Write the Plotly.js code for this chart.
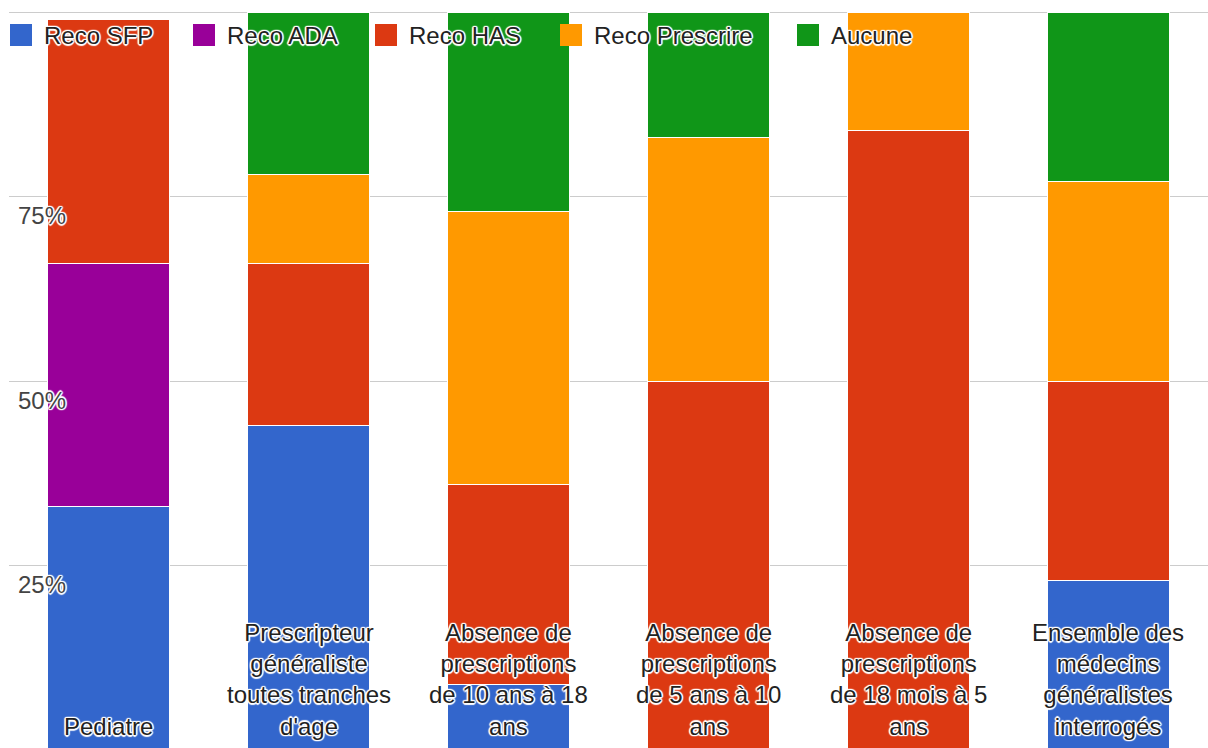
<!DOCTYPE html>
<html>
<head>
<meta charset="utf-8">
<script src="https://cdn.plot.ly/plotly-3.0.1.min.js"></script>
<style>
  html, body { margin: 0; padding: 0; background: #fff; overflow: hidden; }
  #chart { width: 1208px; height: 748px; }
</style>
</head>
<body>
<div id="chart"></div>
<script>
// ---- Data ----
const categories = [
  "Pediatre",
  "Prescripteur généraliste toutes tranches d'age",
  "Absence de prescriptions de 10 ans à 18 ans",
  "Absence de prescriptions de 5 ans à 10 ans",
  "Absence de prescriptions de 18 mois à 5 ans",
  "Ensemble des médecins généralistes interrogés"
];
const categoryLabels = [
  "Pediatre",
  "Prescripteur<br>généraliste<br>toutes tranches<br>d'age",
  "Absence de<br>prescriptions<br>de 10 ans à 18<br>ans",
  "Absence de<br>prescriptions<br>de 5 ans à 10<br>ans",
  "Absence de<br>prescriptions<br>de 18 mois à 5<br>ans",
  "Ensemble des<br>médecins<br>généralistes<br>interrogés"
];
const seriesNames = ["Reco SFP", "Reco ADA", "Reco HAS", "Reco Prescrire", "Aucune"];
const recoSFP       = [33, 44,  9,  0,  0, 23];
const recoADA       = [33,  0,  0,  0,  0,  0];
const recoHAS       = [33, 22, 27, 50, 84, 27];
const recoPrescrire = [ 0, 12, 37, 33, 16, 27];
const aucune        = [ 0, 22, 27, 17,  0, 23];
const yTickVals  = [25, 50, 75, 100];
const yTickText  = ["25%", "50%", "75%", ""];

// ---- Styles ----
const colors = ["#3366cc", "#990099", "#dc3912", "#ff9900", "#109618"];
const FONT = "Arial, 'Liberation Sans', sans-serif";
const halo = "1.5px 0 1px #fff, -1.5px 0 1px #fff, 0 1.5px 1px #fff, 0 -1.5px 1px #fff, " +
             "1px 1px 1px #fff, -1px -1px 1px #fff, 1px -1px 1px #fff, -1px 1px 1px #fff";

const W = 1208, H = 748;
const M = {l: 9, r: 0, t: 11, b: 0};
const PW = W - M.l - M.r, PH = H - M.t - M.b;
const px2x = px => (px - M.l) / PW;
const px2y = py => (H - M.b - py) / PH;

const values = [recoSFP, recoADA, recoHAS, recoPrescrire, aucune];
const traces = values.map((v, i) => ({
  type: "bar",
  name: seriesNames[i],
  x: categories,
  y: v,
  marker: {color: colors[i], line: {color: "#ffffff", width: 1}},
  hoverinfo: "x+y+name",
  showlegend: false
}));

// custom legend (swatch + label) laid over the top of the plot
const legendSwatchX = [10, 193, 375, 560, 797];
const legendCenterY = 35;
const swatch = 22;
const shapes = [];
const annotations = [];
seriesNames.forEach((name, i) => {
  const x0 = legendSwatchX[i];
  shapes.push({
    type: "rect", xref: "paper", yref: "paper", layer: "above",
    x0: px2x(x0), x1: px2x(x0 + swatch),
    y0: px2y(legendCenterY - swatch / 2), y1: px2y(legendCenterY + swatch / 2),
    fillcolor: colors[i], line: {width: 0}
  });
  annotations.push({
    xref: "paper", yref: "paper",
    x: px2x(x0 + swatch + 10), y: px2y(legendCenterY + 1),
    xanchor: "left", yanchor: "middle",
    text: name, showarrow: false,
    font: {family: FONT, size: 24, color: "#222222", shadow: halo}
  });
});

// category labels drawn inside the plot at the bottom
categories.forEach((c, i) => {
  annotations.push({
    xref: "x", yref: "paper", x: c, y: 0,
    xanchor: "center", yanchor: "bottom", yshift: 6,
    text: categoryLabels[i], showarrow: false, align: "center",
    font: {family: FONT, size: 24, color: "#222222", shadow: halo}
  });
});

const layout = {
  width: W, height: H,
  margin: M,
  paper_bgcolor: "#ffffff",
  plot_bgcolor: "#ffffff",
  barmode: "stack",
  bargap: 0.39,
  showlegend: false,
  font: {family: FONT},
  xaxis: {
    type: "category",
    range: [-0.5, categories.length - 0.5],
    showticklabels: false,
    showgrid: false, zeroline: false, showline: false, ticks: "",
    fixedrange: true
  },
  yaxis: {
    range: [0.34, 100.14],
    tickvals: yTickVals,
    ticktext: yTickText,
    ticklabelposition: "inside",
    ticklabelstandoff: 6,
    ticklabelshift: 19,
    tickfont: {family: FONT, size: 24, color: "#444444", shadow: halo},
    showgrid: true, gridcolor: "#cccccc", gridwidth: 1,
    zeroline: false, showline: false, ticks: "",
    layer: "above traces",
    fixedrange: true
  },
  shapes: shapes,
  annotations: annotations
};

Plotly.newPlot("chart", traces, layout, {displayModeBar: false, staticPlot: true});
</script>
</body>
</html>
